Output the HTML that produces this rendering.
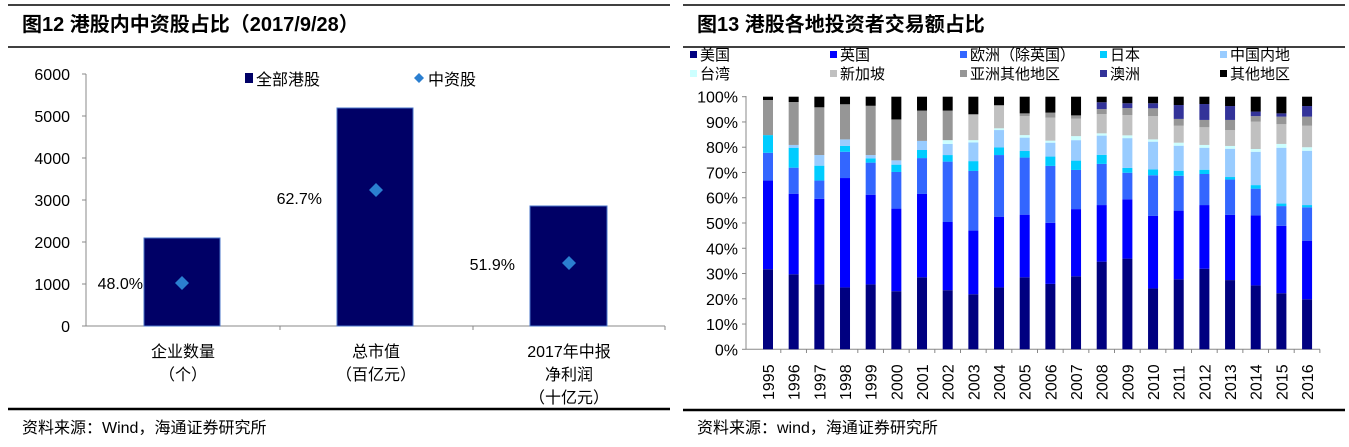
<!DOCTYPE html>
<html><head><meta charset="utf-8"><style>
body{margin:0;background:#fff;width:1349px;height:447px;overflow:hidden}
svg{display:block;font-family:"Liberation Sans","Noto Sans CJK SC",sans-serif}
</style></head><body>
<svg id="s" width="1349" height="447" xmlns="http://www.w3.org/2000/svg">
<!-- left panel -->
<line x1="8" y1="5" x2="670" y2="5" stroke="#000" stroke-width="1.5"/>
<line x1="8" y1="47" x2="670" y2="47" stroke="#000" stroke-width="1.5"/>
<text x="22" y="31" font-size="20" font-weight="bold" fill="#000">图12 港股内中资股占比（2017/9/28）</text>
<line x1="8" y1="409" x2="670" y2="409" stroke="#000" stroke-width="2.5"/>
<text x="22" y="433" font-size="16" fill="#000">资料来源：Wind，海通证券研究所</text>
<g font-size="16" fill="#000" text-anchor="end">
<text x="70" y="80">6000</text><text x="70" y="122">5000</text><text x="70" y="164">4000</text>
<text x="70" y="206">3000</text><text x="70" y="248">2000</text><text x="70" y="290">1000</text><text x="70" y="332">0</text>
</g>
<g stroke="#888" stroke-width="1">
<line x1="86" y1="74" x2="86" y2="326"/><line x1="86" y1="326" x2="665" y2="326"/>
<line x1="82" y1="74" x2="86" y2="74"/><line x1="82" y1="116" x2="86" y2="116"/><line x1="82" y1="158" x2="86" y2="158"/>
<line x1="82" y1="200" x2="86" y2="200"/><line x1="82" y1="242" x2="86" y2="242"/><line x1="82" y1="284" x2="86" y2="284"/>
<line x1="82" y1="326" x2="86" y2="326"/>
<line x1="280" y1="326" x2="280" y2="330"/><line x1="473" y1="326" x2="473" y2="330"/><line x1="665" y1="326" x2="665" y2="330"/>
</g>
<g fill="#000066" stroke="#4a74c8" stroke-width="1">
<rect x="144" y="238" width="76" height="88"/><rect x="337" y="108" width="76" height="218"/><rect x="530" y="206" width="77" height="120"/>
</g>
<g fill="#2b7fd0">
<path d="M182 276 L189 283 L182 290 L175 283Z"/><path d="M376 183 L383 190 L376 197 L369 190Z"/><path d="M569 256 L576 263 L569 270 L562 263Z"/>
</g>
<g font-size="16" fill="#000" text-anchor="end">
<text x="143" y="289">48.0%</text><text x="322" y="204">62.7%</text><text x="515" y="270">51.9%</text>
</g>
<rect x="245" y="73" width="8" height="10" fill="#000066"/>
<text x="256" y="85" font-size="16">全部港股</text>
<path d="M419 73 L424 78 L419 83 L414 78Z" fill="#2b7fd0"/>
<text x="428" y="85" font-size="16">中资股</text>
<g font-size="16" fill="#000" text-anchor="middle">
<text x="183" y="357">企业数量</text><text x="183" y="380">（个）</text>
<text x="376" y="357">总市值</text><text x="376" y="380">（百亿元）</text>
<text x="569" y="357">2017年中报</text><text x="569" y="380">净利润</text><text x="569" y="403">（十亿元）</text>
</g>
<!-- right panel -->
<line x1="683" y1="5" x2="1345" y2="5" stroke="#000" stroke-width="1.5"/>
<line x1="683" y1="47" x2="1345" y2="47" stroke="#000" stroke-width="1.5"/>
<text x="697" y="31" font-size="20" font-weight="bold" fill="#000">图13 港股各地投资者交易额占比</text>
<line x1="683" y1="410" x2="1345" y2="410" stroke="#000" stroke-width="2.5"/>
<text x="697" y="433" font-size="16" fill="#000">资料来源：wind，海通证券研究所</text>
<g id="R"></g>
</svg>
<script>
var C=["#000080","#0000ff","#3366ff","#00ccff","#99ccff","#ccffff","#c0c0c0","#969696","#333399","#000000"];
var D=[
[31.7,66.8,77.8,84.8,84.8,84.8,84.8,98.7,98.7],
[29.7,61.6,71.9,79.8,80.9,80.9,80.9,97.9,97.9],
[25.7,59.6,66.8,72.7,76.9,76.9,76.9,95.8,95.8],
[24.5,67.8,78.2,80.5,83.1,83.1,83.1,97.0,97.0],
[25.7,61.2,73.9,75.6,76.9,76.9,76.9,96.4,96.4],
[23.0,55.7,70.2,73.1,74.8,74.8,74.8,91.0,91.0],
[28.5,61.5,75.7,78.9,82.5,82.5,82.5,94.5,94.5],
[23.4,50.4,74.3,76.9,81.3,82.8,82.8,94.5,94.5],
[21.8,47.0,70.6,74.5,81.9,82.8,92.7,93.1,93.1],
[24.5,52.5,76.9,79.9,86.8,87.5,96.3,96.7,96.7],
[28.5,53.3,75.9,78.5,83.8,84.8,92.3,93.4,93.4],
[25.9,50.1,72.6,76.3,81.8,82.6,91.7,93.7,93.7],
[28.9,55.5,71.0,74.7,82.8,84.4,91.3,92.6,92.6],
[34.7,57.1,73.4,77.0,84.6,85.5,93.1,95.1,97.8],
[35.9,59.4,69.9,71.8,83.6,84.7,92.7,95.5,97.4],
[24.1,52.8,68.9,71.2,82.2,83.1,92.3,95.4,97.4],
[27.7,54.9,68.7,70.7,80.6,81.8,88.5,91.2,96.7],
[31.9,57.1,69.4,71.1,79.8,80.9,87.9,90.8,97.1],
[27.4,53.2,67.2,68.2,79.4,80.5,86.8,90.8,96.3],
[25.3,53.0,63.6,65.0,78.2,79.3,90.1,92.3,94.1],
[22.2,48.9,56.7,57.7,79.8,81.3,89.1,92.1,93.4],
[19.8,43.0,56.2,57.1,78.6,80.0,88.5,92.1,96.3]];
var y0=349.3,k=2.526,h='';
function Y(p){return y0-p*k}
for(var i=0;i<=10;i++){var yy=Y(i*10);h+='<line x1="742" y1="'+yy+'" x2="746" y2="'+yy+'" stroke="#888"/><text x="738" y="'+(yy+6)+'" font-size="16" text-anchor="end">'+(i*10)+'%</text>';}
h+='<line x1="746" y1="96" x2="746" y2="349.3" stroke="#888"/><line x1="746" y1="349.3" x2="1320" y2="349.3" stroke="#888"/>';
for(var j=0;j<22;j++){var cx=768+j*25.67,prev=0,v=D[j].concat([100]);
 for(var s=0;s<10;s++){var t=v[s];if(t>prev){h+='<rect x="'+(cx-5)+'" y="'+Y(t)+'" width="10" height="'+((t-prev)*k)+'" fill="'+C[s]+'"/>';}prev=Math.max(prev,t);}
 var tx=cx+12.8;h+='<line x1="'+tx+'" y1="349.3" x2="'+tx+'" y2="353" stroke="#888"/>';
 h+='<text transform="translate('+(cx+6)+',400) rotate(-90)" font-size="16">'+(1995+j)+'</text>';}
var L=[["美国",0,690,60],["英国",1,830,60],["欧洲（除英国）",2,960,60],["日本",3,1100,60],["中国内地",4,1220,60],["台湾",5,690,79],["新加坡",6,830,79],["亚洲其他地区",7,960,79],["澳洲",8,1100,79],["其他地区",9,1220,79]];
L.forEach(function(l){h+='<rect x="'+l[2]+'" y="'+(l[3]-9)+'" width="7" height="7" fill="'+C[l[1]]+'"/><text x="'+(l[2]+10)+'" y="'+l[3]+'" font-size="15">'+l[0]+'</text>';});
document.getElementById('R').innerHTML=h;
</script>
</body></html>
